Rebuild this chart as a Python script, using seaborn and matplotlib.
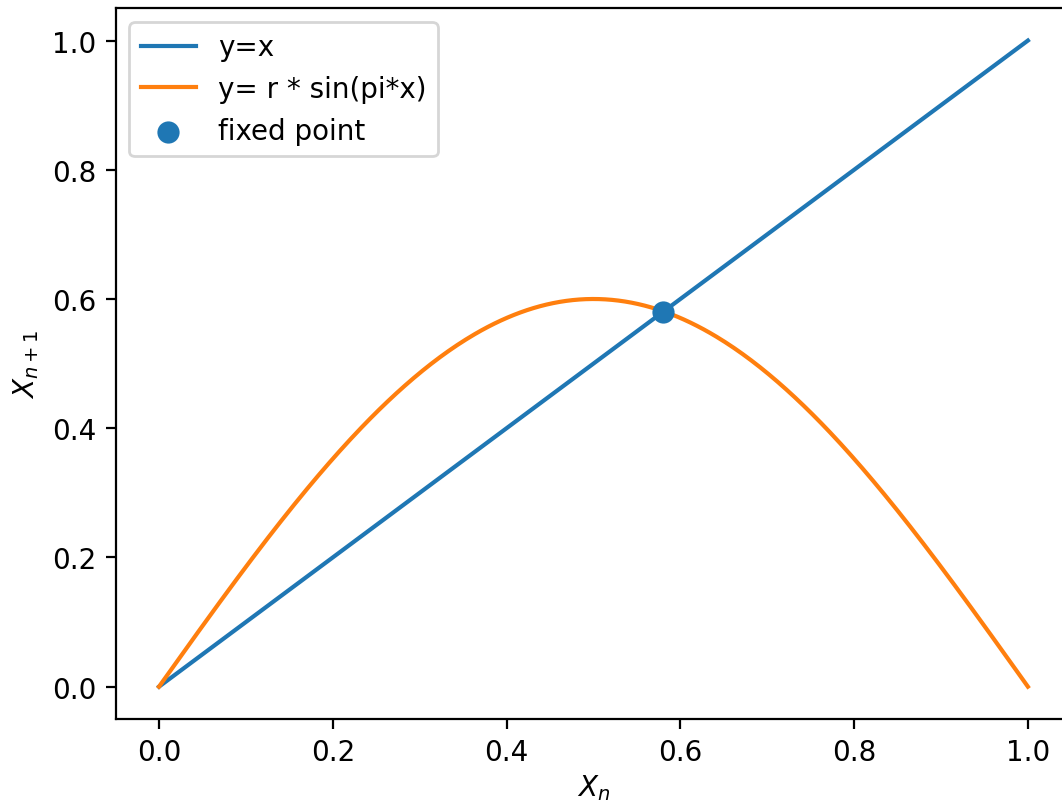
import numpy as np
import pandas as pd
import matplotlib
matplotlib.use("Agg")
import matplotlib.pyplot as plt
import seaborn as sns

# map parameter and sampling of the x axis
r = 0.6
x_start, x_stop, n_samples = 0.0, 1.0, 400
fixed_x = [0.5806]
fixed_y = [0.5806]

x = np.linspace(x_start, x_stop, n_samples)
df = pd.DataFrame({"x": x, "identity": x, "map": r * np.sin(np.pi * x)})
pts = pd.DataFrame({"x": fixed_x, "y": fixed_y})

dpi = 200
fig = plt.figure(figsize=(1062 / dpi, 804 / dpi), dpi=dpi)
ax = fig.add_axes([0.1088, 0.1045, 0.900, 0.884])

sns.lineplot(data=df, x="x", y="identity", ax=ax, color="C0", label="y=x", linewidth=1.5)
sns.lineplot(data=df, x="x", y="map", ax=ax, color="C1", label="y= r * sin(pi*x)", linewidth=1.5)
sns.scatterplot(data=pts, x="x", y="y", ax=ax, color="C0", s=64, linewidth=0,
                label="fixed point", zorder=3)

ax.set_xlim(-0.05, 1.05)
ax.set_ylim(-0.05, 1.05)
ax.set_xticks([0.0, 0.2, 0.4, 0.6, 0.8, 1.0])
ax.set_yticks([0.0, 0.2, 0.4, 0.6, 0.8, 1.0])
ax.set_xlabel(r"$X_n$", labelpad=2)
ax.set_ylabel(r"$X_{n+1}$")
ax.legend(loc="upper left")

fig.savefig("out.png", dpi=dpi)
